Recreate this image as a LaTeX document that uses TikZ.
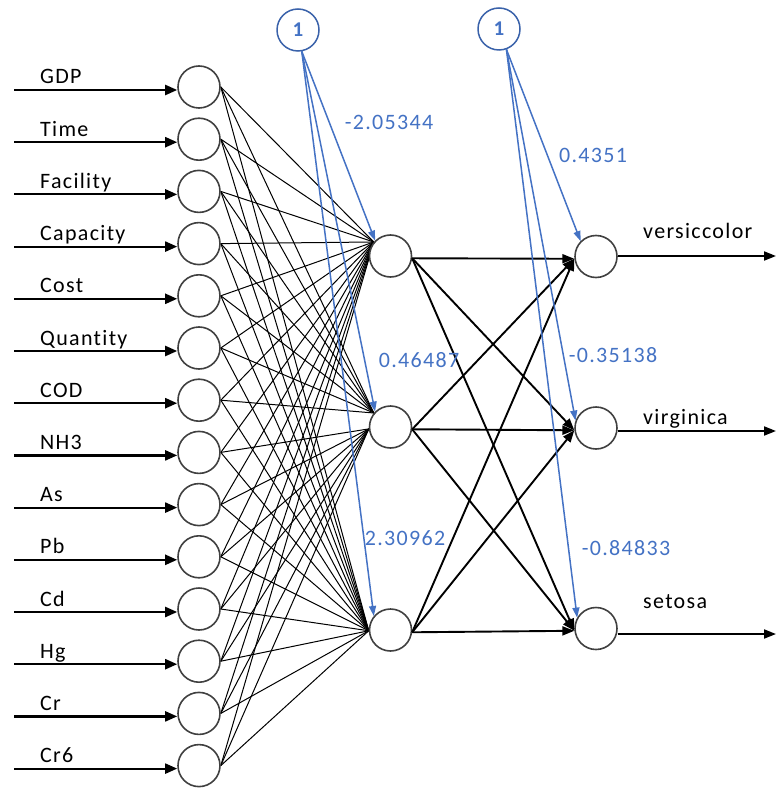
\documentclass[tikz,border=0pt]{standalone}
\usepackage{fontspec}
\setmainfont{Carlito}
\newfontfamily\lblfont[LetterSpace=6,Ligatures=NoCommon]{Carlito}
\usetikzlibrary{arrows.meta}
\definecolor{obl}{HTML}{4472C4}
\definecolor{obldark}{HTML}{3A62AA}
\definecolor{cdark}{HTML}{404040}
\pgfdeclarelayer{background}
\pgfsetlayers{background,main}
\begin{document}
\begin{tikzpicture}[x=1pt,y=-1pt,
  neuron/.style={circle, draw=cdark, fill=white, line width=1.6pt, minimum size=42pt, inner sep=0pt},
  biasnode/.style={circle, draw=obldark, fill=white, line width=1.5pt, minimum size=42pt, inner sep=0pt, text=obl, font=\bfseries\fontsize{21}{21}\selectfont},
  link/.style={line width=1pt},
  inarrow/.style={line width=2.2pt, -{Triangle[length=12pt,width=10pt]}},
  hoarrow/.style={line width=1.9pt, -{Triangle[length=12pt,width=9pt]}},
  biasarrow/.style={draw=obl, line width=1.5pt, -{Triangle[length=10pt,width=7pt]}},
  lbl/.style={font=\lblfont\fontsize{22}{24}\selectfont, anchor=base west, inner sep=0pt},
  wlbl/.style={font=\lblfont\fontsize{22}{24}\selectfont, text=obl, inner sep=0pt}]
\useasboundingbox (0,0) rectangle (776,794);

% input layer
\foreach \name [count=\k] in {GDP,Time,Facility,Capacity,Cost,Quantity,COD,NH3,As,Pb,Cd,Hg,Cr,Cr6}{
  \node[neuron] (i\k) at (199, {87+52.2*(\k-1)}) {};
  \node[lbl] (l\k) at (40, {84+52.2*(\k-1)}) {\name};
  \coordinate (s\k) at (14, {90+52.2*(\k-1)});
  \draw[inarrow] (s\k) -- (s\k -| i\k.west);
}

% hidden layer
\node[neuron] (h1) at (390.5,256) {};
\node[neuron] (h2) at (390.5,427) {};
\node[neuron] (h3) at (390.5,630) {};

% output layer
\node[neuron] (o1) at (596,256.5) {};
\node[neuron] (o2) at (596,428) {};
\node[neuron] (o3) at (596,628.5) {};

% bias nodes
\node[biasnode] (b1) at (298,30) {1};
\node[biasnode] (b2) at (499,29) {1};

% input -> hidden links
\begin{pgfonlayer}{background}
\foreach \k in {1,...,14}{
  \draw[link] (i\k.east) -- (h1.140);
  \ifnum\k<8
    \draw[link] (i\k.east) -- (h2.140);
  \else
    \draw[link] (i\k.east) -- (h2.185);
  \fi
  \draw[link] (i\k.east) -- (h3.182);
}
\end{pgfonlayer}

% hidden -> output
\foreach \a in {1,2,3}{
  \foreach \b in {1,2,3}{
    \draw[hoarrow] (h\a.-6) -- (o\b.186);
  }
}

% outputs
\coordinate (e1) at (776,256);
\coordinate (e2) at (776,431);
\coordinate (e3) at (776,634);
\draw[hoarrow] (o1.east |- e1) -- (e1);
\draw[hoarrow] (o2.east |- e2) -- (e2);
\draw[hoarrow] (o3.east |- e3) -- (e3);

\node[lbl] (t1) at (643,239) {versiccolor};
\node[lbl] (t2) at (643,424) {virginica};
\node[lbl] (t3) at (643,608) {setosa};

% bias arrows
\draw[biasarrow] (b1.-80) -- (h1.135);
\draw[biasarrow] (b1.-80) -- (h2.135);
\draw[biasarrow] (b1.-80) -- (h3.140);
\draw[biasarrow] (b2.-70) -- (o1.135);
\draw[biasarrow] (b2.-70) -- (o2.160);
\draw[biasarrow] (b2.-70) -- (o3.150);

% weights
\node[wlbl] (w1) at (389,122) {-2.05344};
\node[wlbl] (w2) at (419,360) {0.46487};
\node[wlbl] (w3) at (405,538) {2.30962};
\node[wlbl] (w4) at (593,155) {0.4351};
\node[wlbl] (w5) at (613,355) {-0.35138};
\node[wlbl] (w6) at (626,548) {-0.84833};
\end{tikzpicture}
\end{document}
